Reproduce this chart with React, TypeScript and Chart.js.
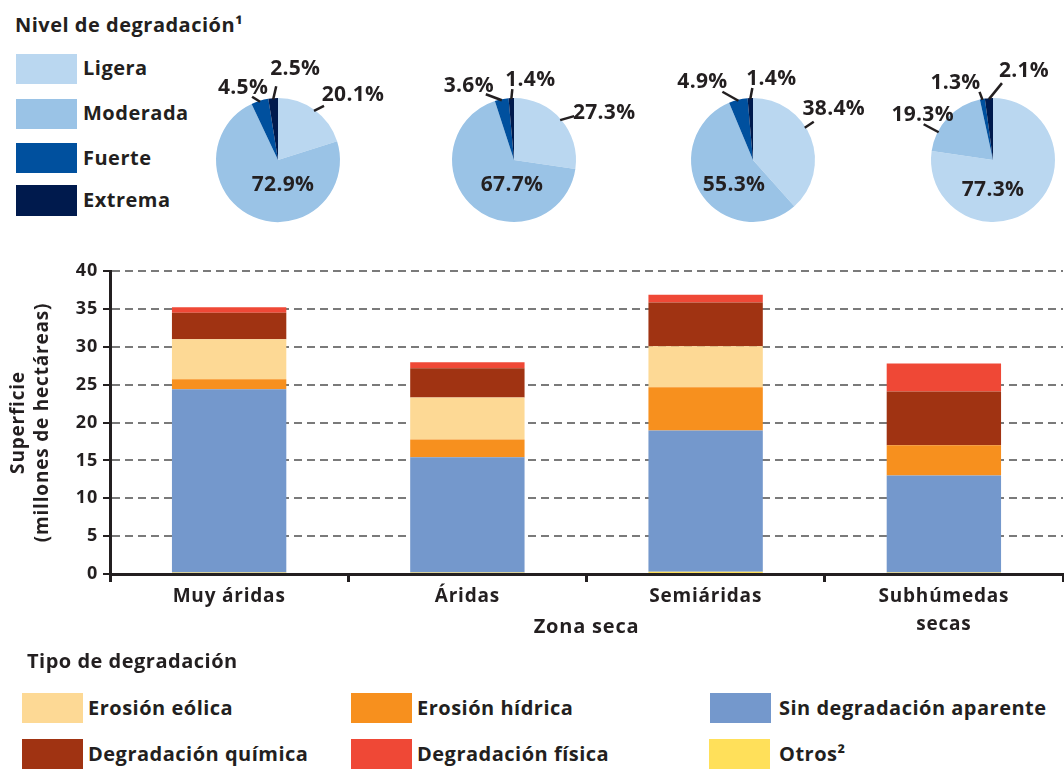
import React, { useEffect, useRef } from "react";
import { Chart, registerables } from "chart.js";

Chart.register(...registerables);

// ---------------- Data ----------------
const zoneLabels: (string | string[])[] = ["Muy áridas", "Áridas", "Semiáridas", ["Subhúmedas", "secas"]];
const otros = [0.2, 0.2, 0.3, 0.2];
const sinDegradacion = [24.2, 15.2, 18.65, 12.8];
const erosionHidrica = [1.3, 2.35, 5.7, 4.0];
const erosionEolica = [5.3, 5.55, 5.4, 0];
const degradacionQuimica = [3.5, 3.85, 5.8, 7.1];
const degradacionFisica = [0.7, 0.8, 1.0, 3.7];
const yTickValues = [0, 5, 10, 15, 20, 25, 30, 35, 40];

const nivelLabels = ["Ligera", "Moderada", "Fuerte", "Extrema"];
const nivelMuyAridas = [20.1, 72.9, 4.5, 2.5];
const nivelAridas = [27.3, 67.7, 3.6, 1.4];
const nivelSemiaridas = [38.4, 55.3, 4.9, 1.4];
const nivelSubhumedas = [77.3, 19.3, 1.3, 2.1];

// ---------------- Styles ----------------
const FONT = '"Open Sans", "DejaVu Sans", sans-serif';
const INK = "#231F20";
const nivelColors = ["#BAD7F0", "#9AC3E6", "#00509E", "#001A4D"];

const tipoSeries = [
  { label: "Otros²", data: otros, color: "#FFE05A" },
  { label: "Sin degradación aparente", data: sinDegradacion, color: "#7498CC" },
  { label: "Erosión hídrica", data: erosionHidrica, color: "#F7901E" },
  { label: "Erosión eólica", data: erosionEolica, color: "#FDD995" },
  { label: "Degradación química", data: degradacionQuimica, color: "#A03312" },
  { label: "Degradación física", data: degradacionFisica, color: "#EF4836" },
];

// legend layout (label index into tipoSeries, box left, text left, row center y)
const tipoLegendLayout = [
  { i: 3, box: 22, text: 88, cy: 708 },
  { i: 2, box: 351, text: 417, cy: 708 },
  { i: 1, box: 710, text: 779, cy: 708 },
  { i: 4, box: 22, text: 88, cy: 754 },
  { i: 5, box: 351, text: 417, cy: 754 },
  { i: 0, box: 709, text: 779, cy: 754 },
];

type LabelCfg = { inside?: boolean; t?: number; lx?: number; ly?: number; dx: number; dy: number };

// label placement (pixel nudges, layout only)
const pieLabelLayouts: LabelCfg[][] = [
  [
    { lx: 10, ly: -5, dx: 29, dy: -11 },
    { inside: true, dx: 5, dy: 25 },
    { lx: -8, ly: -5, dx: -9, dy: -9 },
    { lx: 3, ly: -13, dx: 19, dy: -17 },
  ],
  [
    { lx: 14, ly: -4, dx: 30, dy: -3 },
    { inside: true, dx: -2, dy: 25 },
    { lx: -16, ly: -6, dx: -17, dy: -8 },
    { lx: 1, ly: -10, dx: 18, dy: -9 },
  ],
  [
    { t: 0.42, lx: 9, ly: -6, dx: 20, dy: -13 },
    { inside: true, dx: -19, dy: 25 },
    { lx: -16, ly: -9, dx: -20, dy: -10 },
    { lx: 2, ly: -11, dx: 19, dy: -9 },
  ],
  [
    { inside: true, dx: 0, dy: 30 },
    { t: 0.27, lx: -15, ly: -8, dx: -1, dy: -9 },
    { lx: -3, ly: -8, dx: -24, dy: -9 },
    { lx: 13, ly: -16, dx: 22, dy: -12 },
  ],
];

const pieDefs = [
  { values: nivelMuyAridas, cx: 278, cy: 160 },
  { values: nivelAridas, cx: 514, cy: 160 },
  { values: nivelSemiaridas, cx: 753, cy: 160 },
  { values: nivelSubhumedas, cx: 993, cy: 160 },
];

const PIE_W = 260;
const PIE_H = 240;

function makePieLabelPlugin(cfg: LabelCfg[]) {
  return {
    id: "pieLabels",
    afterDatasetsDraw(chart: any) {
      const ctx = chart.ctx as any;
      const meta = chart.getDatasetMeta(0);
      const data = chart.data.datasets[0].data as number[];
      ctx.save();
      ctx.font = `bold 21px ${FONT}`;
      ctx.letterSpacing = "0.3px";
      ctx.fillStyle = INK;
      ctx.strokeStyle = INK;
      ctx.lineWidth = 2.5;
      ctx.textAlign = "center";
      ctx.textBaseline = "middle";
      meta.data.forEach((arc: any, i: number) => {
        const p = arc.getProps(["x", "y", "startAngle", "endAngle", "outerRadius"], true);
        const c = cfg[i];
        const text = data[i].toFixed(1) + "%";
        if (c.inside) {
          ctx.fillText(text, p.x + c.dx, p.y + c.dy);
          return;
        }
        const t = c.t ?? 0.5;
        const a = p.startAngle + (p.endAngle - p.startAngle) * t;
        const sx = p.x + Math.cos(a) * (p.outerRadius - 1);
        const sy = p.y + Math.sin(a) * (p.outerRadius - 1);
        const ex = sx + (c.lx ?? 0);
        const ey = sy + (c.ly ?? 0);
        ctx.beginPath();
        ctx.moveTo(sx, sy);
        ctx.lineTo(ex, ey);
        ctx.stroke();
        ctx.fillText(text, ex + c.dx, ey + c.dy);
      });
      ctx.restore();
    },
  };
}

function PieChart({ idx }: { idx: number }) {
  const ref = useRef<HTMLCanvasElement>(null);
  const def = pieDefs[idx];
  useEffect(() => {
    const chart = new Chart(ref.current!, {
      type: "pie",
      data: {
        labels: nivelLabels,
        datasets: [{ data: def.values, backgroundColor: nivelColors, borderWidth: 0 }],
      },
      options: {
        animation: false,
        responsive: false,
        radius: 62,
        events: [],
        layout: { padding: 0 },
        plugins: { legend: { display: false }, tooltip: { enabled: false } },
      } as any,
      plugins: [makePieLabelPlugin(pieLabelLayouts[idx])],
    });
    return () => chart.destroy();
  }, []);
  return (
    <canvas
      ref={ref}
      width={PIE_W}
      height={PIE_H}
      style={{ position: "absolute", left: def.cx - PIE_W / 2, top: def.cy - PIE_H / 2, width: PIE_W, height: PIE_H }}
    />
  );
}

const BAR_TOP = 255;
const BAR_H = 395;

const spacingPlugin = {
  id: "letterSpacing",
  beforeLayout(chart: any) {
    chart.ctx.letterSpacing = "0.8px";
  },
  beforeDraw(chart: any) {
    chart.ctx.letterSpacing = "0.8px";
  },
};

function BarChart() {
  const ref = useRef<HTMLCanvasElement>(null);
  useEffect(() => {
    const chart = new Chart(ref.current!, {
      type: "bar",
      data: {
        labels: zoneLabels as any,
        datasets: tipoSeries.map((s) => ({
          label: s.label,
          data: s.data,
          backgroundColor: s.color,
          borderWidth: 0,
          barPercentage: 0.48,
          categoryPercentage: 1,
        })),
      },
      options: {
        animation: false,
        responsive: false,
        events: [],
        layout: { padding: { top: 16, right: 1, left: 0, bottom: 0 } },
        plugins: { legend: { display: false }, tooltip: { enabled: false } },
        scales: {
          x: {
            stacked: true,
            afterFit: (s: any) => {
              s.height = 76;
            },
            grid: {
              drawOnChartArea: false,
              drawTicks: true,
              tickLength: 8,
              tickWidth: 3,
              tickColor: INK,
              offset: true,
            },
            border: { display: true, color: INK, width: 3 },
            ticks: {
              color: INK,
              font: { family: FONT, size: 19, weight: "bold", lineHeight: 1.45 },
              padding: 1,
              maxRotation: 0,
              autoSkip: false,
            },
            title: {
              display: true,
              text: "Zona seca",
              color: INK,
              font: { family: FONT, size: 20, weight: "bold" },
              padding: { top: 0, bottom: 11 },
            },
          },
          y: {
            stacked: true,
            min: 0,
            max: 40,
            afterBuildTicks: (s: any) => {
              s.ticks = yTickValues.map((v) => ({ value: v }));
            },
            afterFit: (s: any) => {
              s.width = 110;
            },
            grid: {
              color: (c: any) => (c.tick && c.tick.value === 0 ? "rgba(0,0,0,0)" : "#7a7a7a"),
              lineWidth: 2,
              drawTicks: true,
              tickLength: 7,
              tickWidth: 2,
              tickColor: INK,
              tickBorderDash: [],
            },
            border: { display: true, color: INK, width: 3, dash: [8, 5] },
            ticks: {
              color: INK,
              font: { family: FONT, size: 18, weight: "bold" },
              padding: 5,
            },
            title: {
              display: true,
              text: ["Superficie", "(millones de hectáreas)"],
              color: INK,
              font: { family: FONT, size: 19, weight: "bold", lineHeight: 1.3 },
              padding: { top: 6, bottom: 0 },
            },
          },
        },
      } as any,
      plugins: [spacingPlugin],
    });
    return () => chart.destroy();
  }, []);
  return (
    <canvas
      ref={ref}
      width={1064}
      height={BAR_H}
      style={{ position: "absolute", left: 0, top: BAR_TOP, width: 1064, height: BAR_H }}
    />
  );
}

const textStyle: React.CSSProperties = {
  position: "absolute",
  fontFamily: FONT,
  fontWeight: 700,
  fontSize: 20,
  letterSpacing: "0.5px",
  color: INK,
  whiteSpace: "nowrap",
  lineHeight: "30px",
  height: 30,
};

export default function App() {
  const nivelBoxes = [
    { top: 54, h: 30, cy: 68 },
    { top: 99, h: 30, cy: 113 },
    { top: 143, h: 30, cy: 158 },
    { top: 185, h: 31, cy: 200 },
  ];
  return (
    <div
      style={{
        position: "absolute",
        left: 0,
        top: 0,
        width: 1064,
        height: 769,
        overflow: "hidden",
        background: "#fff",
      }}
    >
      <div style={{ ...textStyle, left: 15, top: 25 - 15 }}>Nivel de degradación¹</div>
      {nivelLabels.map((lab, i) => (
        <React.Fragment key={lab}>
          <div
            style={{
              position: "absolute",
              left: 16,
              top: nivelBoxes[i].top,
              width: 61,
              height: nivelBoxes[i].h,
              background: nivelColors[i],
            }}
          />
          <div style={{ ...textStyle, left: 83, top: nivelBoxes[i].cy - 15 }}>{lab}</div>
        </React.Fragment>
      ))}
      {pieDefs.map((_, i) => (
        <PieChart key={i} idx={i} />
      ))}
      <BarChart />
      <div style={{ ...textStyle, left: 27, top: 661 - 15 }}>Tipo de degradación</div>
      {tipoLegendLayout.map((l) => (
        <React.Fragment key={l.i}>
          <div
            style={{
              position: "absolute",
              left: l.box,
              top: l.cy - 15,
              width: 61,
              height: 30,
              background: tipoSeries[l.i].color,
            }}
          />
          <div style={{ ...textStyle, left: l.text, top: l.cy - 15 }}>{tipoSeries[l.i].label}</div>
        </React.Fragment>
      ))}
    </div>
  );
}
